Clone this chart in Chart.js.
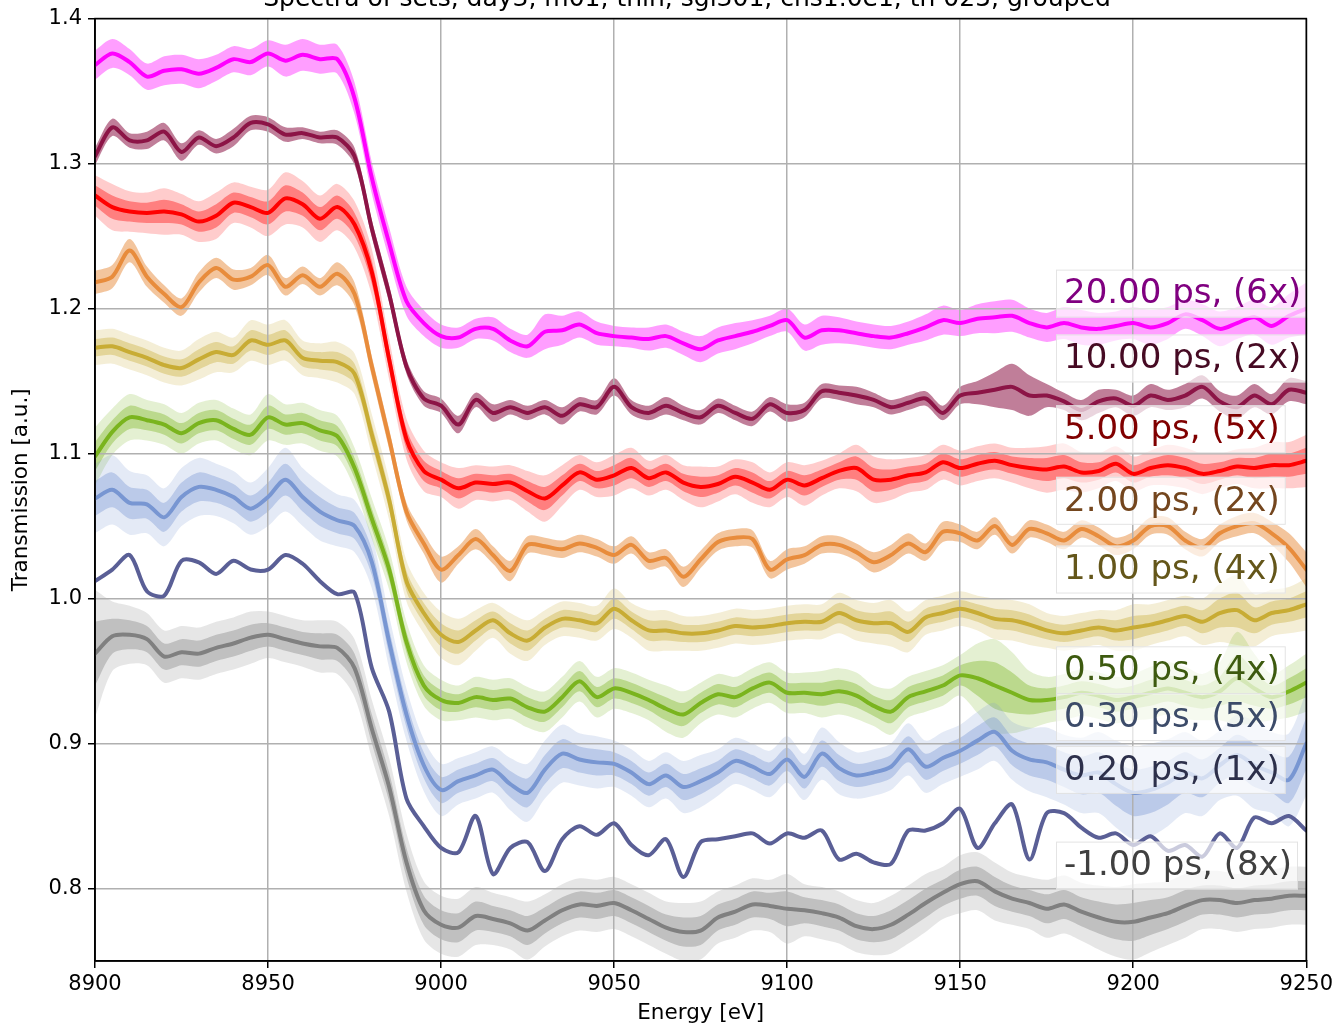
<!DOCTYPE html>
<html>
<head>
<meta charset="utf-8">
<script src="https://cdn.jsdelivr.net/npm/chart.js@4.4.1/dist/chart.umd.min.js"></script>
<style>
  html, body { margin: 0; padding: 0; background: #ffffff; }
  canvas { display: block; }
</style>
</head>
<body>
<canvas id="spectra" width="1337" height="1028"></canvas>
<script>
// Energy grid [eV]
const energy = [
  8900, 8905, 8910, 8915, 8920, 8925, 8930, 8935, 8940, 8945,
  8950, 8955, 8960, 8965, 8970, 8975, 8980, 8985, 8990, 8995,
  9000, 9005, 9010, 9015, 9020, 9025, 9030, 9035, 9040, 9045,
  9050, 9055, 9060, 9065, 9070, 9075, 9080, 9085, 9090, 9095,
  9100, 9105, 9110, 9115, 9120, 9125, 9130, 9135, 9140, 9145,
  9150, 9155, 9160, 9165, 9170, 9175, 9180, 9185, 9190, 9195,
  9200, 9205, 9210, 9215, 9220, 9225, 9230, 9235, 9240, 9245,
  9250
];

// Delay groups (label text)
const delayLabels = [
  '20.00 ps, (6x)', '10.00 ps, (2x)', '5.00 ps, (5x)', '2.00 ps, (2x)', '1.00 ps, (4x)',
  '0.50 ps, (4x)', '0.30 ps, (5x)', '0.20 ps, (1x)', '-1.00 ps, (8x)'
];

// Mean transmission per delay (offset for display) and spread between sets
const t20 = [
  1.368, 1.376, 1.370, 1.360, 1.364, 1.365, 1.362, 1.366, 1.372, 1.370,
  1.376, 1.371, 1.375, 1.372, 1.372, 1.345, 1.290, 1.245, 1.205, 1.190,
  1.181, 1.180, 1.186, 1.186, 1.178, 1.174, 1.184, 1.185, 1.189, 1.183,
  1.181, 1.180, 1.179, 1.181, 1.176, 1.172, 1.178, 1.181, 1.184, 1.188,
  1.192, 1.180, 1.185, 1.185, 1.183, 1.181, 1.180, 1.183, 1.187, 1.192,
  1.190, 1.193, 1.194, 1.195, 1.190, 1.187, 1.190, 1.187, 1.186, 1.188,
  1.190, 1.187, 1.190, 1.196, 1.192, 1.186, 1.190, 1.194, 1.188, 1.195,
  1.200
];
const t20Spread = [
  .010, .010, .009, .009, .010, .010, .010, .009, .009, .009,
  .009, .011, .011, .010, .010, .011, .011, .011, .010, .009,
  .008, .007, .007, .008, .008, .008, .012, .010, .009, .008,
  .007, .007, .008, .008, .008, .009, .009, .009, .008, .007,
  .008, .009, .010, .009, .008, .008, .008, .008, .009, .010,
  .009, .010, .011, .011, .010, .010, .011, .012, .011, .010,
  .011, .012, .011, .010, .011, .012, .011, .012, .013, .015,
  .018
];

const t10 = [
  1.305, 1.325, 1.316, 1.316, 1.322, 1.308, 1.318, 1.312, 1.318, 1.328,
  1.327, 1.320, 1.321, 1.318, 1.318, 1.305, 1.255, 1.210, 1.160, 1.138,
  1.133, 1.120, 1.137, 1.128, 1.132, 1.128, 1.132, 1.126, 1.134, 1.132,
  1.146, 1.132, 1.128, 1.133, 1.128, 1.125, 1.133, 1.128, 1.124, 1.134,
  1.128, 1.130, 1.143, 1.142, 1.140, 1.137, 1.132, 1.135, 1.138, 1.128,
  1.140, 1.142, 1.144, 1.146, 1.140, 1.140, 1.136, 1.130, 1.136, 1.138,
  1.133, 1.140, 1.137, 1.140, 1.146, 1.136, 1.132, 1.140, 1.134, 1.144,
  1.142
];
const t10Spread = [
  .006, .006, .005, .006, .006, .006, .005, .005, .006, .005,
  .005, .005, .004, .004, .005, .006, .006, .006, .005, .005,
  .005, .006, .005, .006, .005, .005, .005, .006, .005, .005,
  .006, .005, .005, .006, .005, .005, .005, .005, .005, .005,
  .006, .005, .005, .005, .006, .005, .005, .005, .005, .005,
  .006, .008, .012, .016, .014, .008, .006, .007, .008, .006,
  .007, .008, .007, .008, .008, .007, .008, .008, .007, .008,
  .008
];

const t5 = [
  1.278, 1.270, 1.267, 1.266, 1.267, 1.265, 1.260, 1.264, 1.273, 1.270,
  1.266, 1.276, 1.272, 1.262, 1.270, 1.258, 1.225, 1.165, 1.110, 1.088,
  1.082, 1.076, 1.080, 1.079, 1.080, 1.074, 1.069, 1.078, 1.087, 1.082,
  1.085, 1.090, 1.083, 1.087, 1.080, 1.077, 1.079, 1.084, 1.080, 1.075,
  1.082, 1.078, 1.083, 1.088, 1.090, 1.082, 1.082, 1.085, 1.087, 1.094,
  1.090, 1.093, 1.095, 1.092, 1.090, 1.089, 1.091, 1.087, 1.088, 1.093,
  1.086, 1.090, 1.092, 1.090, 1.086, 1.088, 1.091, 1.090, 1.092, 1.092,
  1.095
];
const t5Spread = [
  .007, .008, .007, .007, .008, .007, .007, .008, .007, .007,
  .008, .009, .008, .008, .008, .008, .008, .007, .007, .007,
  .006, .007, .006, .006, .006, .007, .008, .007, .006, .006,
  .007, .007, .006, .006, .006, .007, .006, .006, .007, .006,
  .006, .007, .006, .006, .008, .008, .007, .006, .006, .006,
  .006, .006, .006, .006, .007, .008, .008, .007, .006, .006,
  .006, .006, .007, .007, .007, .006, .006, .007, .008, .008,
  .009
];

const t2 = [
  1.218, 1.222, 1.240, 1.222, 1.210, 1.201, 1.218, 1.228, 1.220, 1.222,
  1.230, 1.215, 1.223, 1.215, 1.224, 1.210, 1.160, 1.110, 1.060, 1.038,
  1.020, 1.030, 1.041, 1.030, 1.019, 1.037, 1.036, 1.034, 1.038, 1.035,
  1.030, 1.037, 1.026, 1.028, 1.015, 1.027, 1.039, 1.042, 1.041, 1.020,
  1.027, 1.030, 1.037, 1.037, 1.032, 1.025, 1.030, 1.038, 1.032, 1.046,
  1.045, 1.040, 1.050, 1.037, 1.048, 1.045, 1.040, 1.048, 1.043, 1.036,
  1.040, 1.050, 1.050, 1.040, 1.035, 1.045, 1.050, 1.052, 1.045, 1.035,
  1.020
];
const t2Spread = [
  .008, .008, .008, .007, .006, .006, .007, .007, .007, .006,
  .007, .006, .006, .006, .008, .008, .007, .007, .006, .007,
  .009, .006, .007, .006, .007, .006, .006, .006, .006, .006,
  .006, .006, .006, .006, .007, .006, .006, .006, .006, .006,
  .007, .006, .006, .006, .006, .007, .007, .007, .006, .007,
  .006, .006, .006, .006, .006, .006, .006, .006, .006, .006,
  .006, .006, .006, .006, .006, .006, .007, .007, .008, .010,
  .012
];

const t1 = [
  1.173, 1.174, 1.170, 1.166, 1.161, 1.159, 1.165, 1.170, 1.168, 1.178,
  1.175, 1.178, 1.166, 1.164, 1.163, 1.155, 1.113, 1.068, 1.012, 0.990,
  0.975, 0.970, 0.978, 0.985, 0.976, 0.971, 0.980, 0.986, 0.985, 0.983,
  0.993, 0.985, 0.978, 0.978, 0.976, 0.976, 0.978, 0.981, 0.980, 0.981,
  0.983, 0.984, 0.984, 0.990, 0.985, 0.983, 0.983, 0.977, 0.987, 0.990,
  0.993, 0.990, 0.986, 0.985, 0.982, 0.978, 0.976, 0.978, 0.980, 0.978,
  0.980, 0.982, 0.985, 0.988, 0.984, 0.990, 0.992, 0.985, 0.990, 0.992,
  0.996
];
const t1Spread = [
  .006, .006, .006, .006, .006, .006, .007, .007, .006, .007,
  .007, .007, .006, .006, .007, .007, .007, .007, .007, .007,
  .008, .008, .007, .006, .007, .007, .006, .006, .006, .006,
  .007, .006, .007, .007, .006, .006, .006, .006, .006, .006,
  .006, .006, .006, .007, .007, .007, .008, .007, .006, .006,
  .006, .006, .007, .007, .007, .006, .006, .006, .006, .007,
  .008, .007, .007, .007, .008, .010, .012, .009, .008, .008,
  .009
];

const t05 = [
  1.098, 1.115, 1.125, 1.123, 1.120, 1.114, 1.121, 1.123, 1.117, 1.113,
  1.125, 1.120, 1.121, 1.116, 1.112, 1.090, 1.055, 1.020, 0.970, 0.940,
  0.930, 0.928, 0.932, 0.930, 0.931, 0.925, 0.922, 0.932, 0.943, 0.932,
  0.938, 0.935, 0.930, 0.924, 0.920, 0.928, 0.934, 0.932, 0.938, 0.942,
  0.935, 0.935, 0.934, 0.936, 0.933, 0.926, 0.922, 0.932, 0.936, 0.940,
  0.947, 0.945, 0.940, 0.935, 0.930, 0.930, 0.932, 0.935, 0.933, 0.930,
  0.932, 0.935, 0.938, 0.935, 0.932, 0.936, 0.945, 0.938, 0.932, 0.936,
  0.942
];
const t05Spread = [
  .010, .008, .008, .007, .007, .007, .007, .007, .007, .007,
  .008, .007, .007, .007, .007, .007, .007, .007, .007, .007,
  .007, .006, .007, .007, .007, .007, .007, .007, .007, .007,
  .007, .007, .007, .008, .008, .007, .007, .007, .007, .007,
  .007, .007, .008, .008, .008, .007, .008, .007, .007, .007,
  .007, .012, .016, .014, .010, .008, .008, .008, .008, .008,
  .008, .009, .009, .009, .008, .010, .016, .012, .008, .009,
  .010
];

const t03 = [
  1.069, 1.075, 1.066, 1.065, 1.056, 1.070, 1.077, 1.075, 1.070, 1.062,
  1.070, 1.082, 1.070, 1.060, 1.054, 1.050, 1.025, 0.970, 0.920, 0.885,
  0.868, 0.874, 0.878, 0.882, 0.872, 0.866, 0.882, 0.893, 0.889, 0.887,
  0.886, 0.880, 0.872, 0.878, 0.870, 0.874, 0.880, 0.888, 0.884, 0.879,
  0.889, 0.877, 0.893, 0.883, 0.878, 0.880, 0.884, 0.896, 0.884, 0.890,
  0.895, 0.902, 0.908, 0.895, 0.889, 0.887, 0.882, 0.878, 0.880, 0.872,
  0.866, 0.868, 0.873, 0.880, 0.876, 0.885, 0.892, 0.885, 0.880, 0.875,
  0.900
];
const t03Spread = [
  .012, .012, .011, .010, .010, .010, .010, .009, .009, .009,
  .010, .011, .010, .010, .009, .009, .009, .009, .009, .009,
  .009, .008, .008, .008, .009, .010, .010, .010, .009, .009,
  .008, .008, .008, .008, .009, .009, .008, .008, .008, .008,
  .008, .008, .009, .009, .008, .008, .008, .009, .009, .009,
  .009, .010, .010, .010, .011, .012, .012, .013, .014, .015,
  .016, .016, .015, .014, .013, .012, .014, .015, .014, .016,
  .018
];

const t02 = [
  1.012, 1.020, 1.030, 1.005, 1.002, 1.026, 1.025, 1.017, 1.026, 1.020,
  1.020, 1.030, 1.024, 1.012, 1.003, 1.004, 0.952, 0.922, 0.862, 0.843,
  0.828, 0.825, 0.850, 0.810, 0.828, 0.832, 0.812, 0.834, 0.843, 0.837,
  0.845, 0.830, 0.823, 0.834, 0.808, 0.832, 0.834, 0.836, 0.838, 0.831,
  0.838, 0.835, 0.840, 0.820, 0.824, 0.818, 0.817, 0.840, 0.840, 0.845,
  0.855, 0.828, 0.845, 0.858, 0.820, 0.852, 0.852, 0.842, 0.835, 0.838,
  0.830, 0.836, 0.826, 0.830, 0.822, 0.838, 0.828, 0.849, 0.845, 0.850,
  0.840
];

const tm1 = [
  0.962, 0.974, 0.975, 0.972, 0.960, 0.963, 0.962, 0.966, 0.969, 0.973,
  0.975, 0.972, 0.969, 0.967, 0.966, 0.952, 0.910, 0.870, 0.818, 0.785,
  0.775, 0.773, 0.781, 0.779, 0.776, 0.771, 0.778, 0.785, 0.789, 0.788,
  0.790, 0.785, 0.779, 0.773, 0.770, 0.771, 0.780, 0.784, 0.789, 0.788,
  0.786, 0.785, 0.783, 0.780, 0.774, 0.772, 0.775, 0.782, 0.790, 0.797,
  0.803, 0.805, 0.798, 0.793, 0.790, 0.786, 0.789, 0.784, 0.780, 0.777,
  0.777, 0.780, 0.783, 0.788, 0.792, 0.792, 0.790, 0.792, 0.793, 0.795,
  0.795
];
const tm1Spread = [
  .022, .012, .010, .009, .009, .009, .009, .009, .009, .009,
  .008, .008, .008, .009, .009, .010, .010, .010, .010, .010,
  .010, .010, .010, .009, .009, .010, .009, .009, .009, .009,
  .009, .009, .009, .009, .010, .010, .009, .009, .009, .009,
  .012, .009, .009, .009, .009, .009, .010, .010, .010, .009,
  .010, .010, .010, .009, .009, .010, .010, .010, .011, .012,
  .013, .012, .011, .011, .010, .010, .010, .010, .010, .010,
  .010
];

// Axis ticks
const xTicks = [8900, 8950, 9000, 9050, 9100, 9150, 9200, 9250];
const yTicks = [0.8, 0.9, 1.0, 1.1, 1.2, 1.3, 1.4];

// Label placement (energy of left text edge, level of each label)
const labelEnergy = 9180;
const labelLevels = [1.2103, 1.1656, 1.1168, 1.0674, 1.020, 0.9505, 0.9182, 0.8818, 0.8158];

const titleText = 'Spectra of sets, day3, m01, thin, sgl301, chs1.0e1, th 025, grouped';

// Styling of each group: colour, band count, band opacities
const groups = [
  { mean: t20, spread: t20Spread, rgb: [255, 0, 255], bands: 2, outerA: 0.20, innerA: 0.38 },
  { mean: t10, spread: t10Spread, rgb: [140, 20, 70], bands: 1, outerA: 0, innerA: 0.55 },
  { mean: t5, spread: t5Spread, rgb: [255, 0, 0], bands: 2, outerA: 0.20, innerA: 0.38 },
  { mean: t2, spread: t2Spread, rgb: [232, 140, 60], bands: 1, outerA: 0, innerA: 0.50 },
  { mean: t1, spread: t1Spread, rgb: [200, 172, 52], bands: 2, outerA: 0.20, innerA: 0.38 },
  { mean: t05, spread: t05Spread, rgb: [122, 180, 30], bands: 2, outerA: 0.20, innerA: 0.38 },
  { mean: t03, spread: t03Spread, rgb: [120, 150, 210], bands: 2, outerA: 0.20, innerA: 0.38 },
  { mean: t02, spread: null, rgb: [90, 95, 150], bands: 0, outerA: 0, innerA: 0 },
  { mean: tm1, spread: tm1Spread, rgb: [128, 128, 128], bands: 2, outerA: 0.20, innerA: 0.38 }
];

const rgba = (c, a) => `rgba(${c[0]},${c[1]},${c[2]},${a})`;
const darker = (c) => `rgb(${Math.round(c[0] * 0.5)},${Math.round(c[1] * 0.5)},${Math.round(c[2] * 0.5)})`;

// Build the datasets: outer band, inner band, mean line for each group
const datasets = [];
groups.forEach((g) => {
  const pts = (k) => energy.map((e, i) => ({ x: e, y: g.mean[i] + k * (g.spread ? g.spread[i] : 0) }));
  const edge = {
    pointRadius: 0, pointHoverRadius: 0, tension: 0.3, clip: 0,
    borderWidth: 1, borderColor: 'rgba(0,0,0,0)', fill: false
  };
  if (g.bands === 2) {
    datasets.push({ ...edge, data: pts(2) });
    datasets.push({ ...edge, data: pts(-2), fill: '-1', backgroundColor: rgba(g.rgb, g.outerA) });
  }
  if (g.bands >= 1) {
    datasets.push({ ...edge, data: pts(1) });
    datasets.push({ ...edge, data: pts(-1), fill: '-1', backgroundColor: rgba(g.rgb, g.innerA) });
  }
  datasets.push({
    ...edge, data: pts(0), borderColor: rgba(g.rgb, 1), borderWidth: 4,
    borderCapStyle: 'round', borderJoinStyle: 'round'
  });
});
// first group drawn first, later groups on top
datasets.forEach((d, i) => { d.order = datasets.length - i; });

const FONT = 'DejaVu Sans';

const overlay = {
  id: 'overlay',
  afterDraw(chart) {
    const { ctx, chartArea: a, scales: { x, y } } = chart;
    ctx.save();
    // group labels in translucent boxes
    ctx.font = `34px "${FONT}"`;
    ctx.textAlign = 'left';
    ctx.textBaseline = 'middle';
    groups.forEach((g, i) => {
      const tx = x.getPixelForValue(labelEnergy);
      const ty = y.getPixelForValue(labelLevels[i]);
      const w = ctx.measureText(delayLabels[i]).width;
      ctx.fillStyle = 'rgba(255,255,255,0.68)';
      ctx.fillRect(tx - 8, ty - 24, w + 14, 48);
      ctx.strokeStyle = 'rgba(220,220,220,0.8)';
      ctx.lineWidth = 1;
      ctx.strokeRect(tx - 8 + 0.5, ty - 24 + 0.5, w + 13, 47);
      ctx.fillStyle = darker(g.rgb);
      ctx.fillText(delayLabels[i], tx, ty + 1);
    });
    // axes frame
    ctx.strokeStyle = '#000';
    ctx.lineWidth = 1.6;
    ctx.strokeRect(a.left, a.top, a.right - a.left, a.bottom - a.top);
    // title, partly above the canvas edge
    ctx.font = `25px "${FONT}"`;
    ctx.textAlign = 'center';
    ctx.textBaseline = 'alphabetic';
    ctx.fillStyle = '#000';
    ctx.fillText(titleText, 687, 6);
    ctx.restore();
  }
};

new Chart(document.getElementById('spectra'), {
  type: 'line',
  data: { datasets },
  options: {
    responsive: false,
    animation: false,
    devicePixelRatio: 1,
    events: [],
    layout: { padding: { top: 15, right: 30, left: 0, bottom: 0 } },
    plugins: {
      legend: { display: false },
      tooltip: { enabled: false },
      filler: { drawTime: 'beforeDraw', propagate: false }
    },
    scales: {
      x: {
        type: 'linear',
        min: 8900, max: 9250,
        afterBuildTicks: (s) => { s.ticks = xTicks.map(v => ({ value: v })); },
        afterFit: (s) => { s.height = 67; },
        ticks: { color: '#000', font: { family: FONT, size: 21 }, padding: 4, maxRotation: 0,
                 callback: (v) => String(v) },
        grid: { color: '#b0b0b0', lineWidth: 1.5, tickColor: '#000', tickLength: 7, tickWidth: 1.5 },
        border: { color: '#000', width: 1.6 },
        title: { display: true, text: 'Energy [eV]', color: '#000',
                 font: { family: FONT, size: 21.5 }, padding: { top: 0, bottom: 2 } }
      },
      y: {
        type: 'linear',
        min: 0.75, max: 1.4,
        afterBuildTicks: (s) => { s.ticks = yTicks.map(v => ({ value: v })); },
        afterFit: (s) => { s.width = 95; },
        ticks: { color: '#000', font: { family: FONT, size: 21 }, padding: 6,
                 callback: (v) => Number(v).toFixed(1) },
        grid: { color: '#b0b0b0', lineWidth: 1.5, tickColor: '#000', tickLength: 7, tickWidth: 1.5 },
        border: { color: '#000', width: 1.6 },
        title: { display: true, text: 'Transmission [a.u.]', color: '#000',
                 font: { family: FONT, size: 21.5 }, padding: { top: 9, bottom: 0 } }
      }
    }
  },
  plugins: [overlay]
});
</script>
</body>
</html>
